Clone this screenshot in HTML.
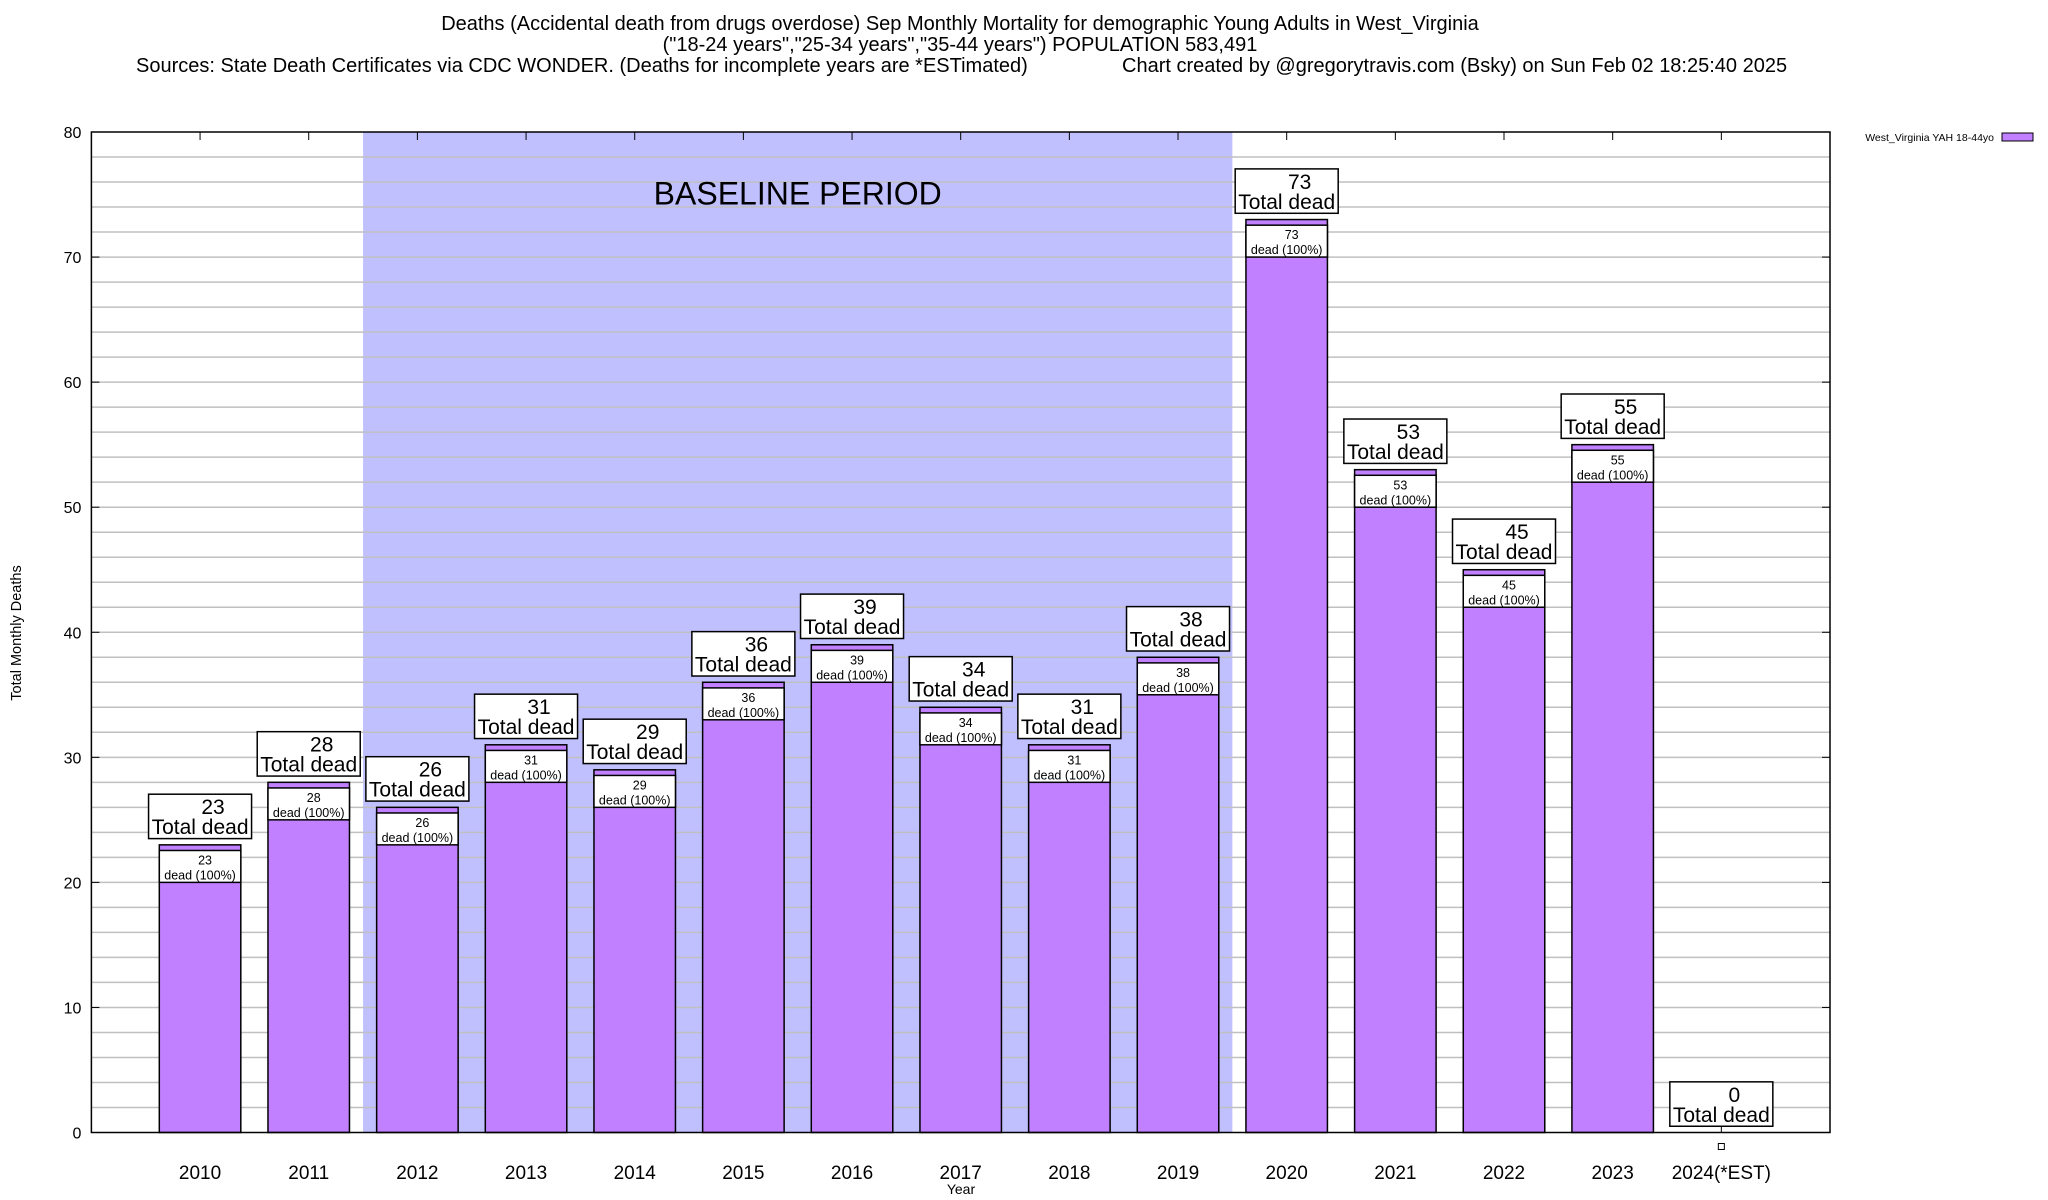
<!DOCTYPE html>
<html><head><meta charset="utf-8">
<style>
html,body{margin:0;padding:0;background:#fff;}
svg{display:block;font-family:"Liberation Sans",Arial,sans-serif;}
</style></head>
<body>
<svg id="chart" width="2048" height="1200" viewBox="0 0 2048 1200" xmlns="http://www.w3.org/2000/svg">
  <g font-size="20" fill="#000">
    <text x="960" y="30" text-anchor="middle">Deaths (Accidental death from drugs overdose) Sep Monthly Mortality for demographic Young Adults in West_Virginia</text>
    <text x="960" y="51" text-anchor="middle">("18-24 years","25-34 years","35-44 years") POPULATION 583,491</text>
    <text x="136" y="72">Sources: State Death Certificates via CDC WONDER. (Deaths for incomplete years are *ESTimated)</text>
    <text x="1122" y="72">Chart created by @gregorytravis.com (Bsky) on Sun Feb 02 18:25:40 2025</text>
  </g>
  <text x="0" y="0" font-size="14.5" text-anchor="middle" transform="translate(21,633) rotate(-90)">Total Monthly Deaths</text>
  <text x="961" y="1194" font-size="14" text-anchor="middle">Year</text>
  <g>
    <text x="1994" y="141" font-size="10.5" text-anchor="end">West_Virginia YAH 18-44yo</text>
    <rect x="2002" y="133" width="31" height="8" fill="#c080ff" stroke="#000" stroke-width="1"/>
  </g>
  <g id="plot"></g>
</svg>
<script>
const categories = ["2010","2011","2012","2013","2014","2015","2016","2017","2018","2019","2020","2021","2022","2023","2024(*EST)"];
const deaths = [23,28,26,31,29,36,39,34,31,38,73,53,45,55,0];
const yTicks = [0,10,20,30,40,50,60,70,80];
const baselineRange = [1.5, 9.5];

const L=91.4, R=1830, T=132, B=1132.5;
const xMin=-1, xMax=15, yMin=0, yMax=80;
const sx=v=>L+(v-xMin)/(xMax-xMin)*(R-L);
const sy=v=>B-(v-yMin)/(yMax-yMin)*(B-T);
const NS="http://www.w3.org/2000/svg";
const plot=document.getElementById('plot');
function mk(tag,attrs,parent){const e=document.createElementNS(NS,tag);for(const k in attrs)e.setAttribute(k,attrs[k]);(parent||plot).appendChild(e);return e;}
function txt(x,y,s,size,anchor,parent){const e=mk('text',{x:x,y:y,'font-size':size,'text-anchor':anchor||'middle'},parent);e.textContent=s;return e;}

const bg=mk('rect',{x:L,y:T,width:R-L,height:B-T,fill:'#fff'});


const bs=mk('rect',{x:sx(baselineRange[0]),y:T,width:sx(baselineRange[1])-sx(baselineRange[0]),height:B-T,fill:'#c0c0ff'});


for(let v=2;v<80;v+=2){
  const g=mk('line',{x1:L,x2:R,y1:sy(v),y2:sy(v),stroke:'#c0c0c0','stroke-width':1.5});
  
  
}
const bl=txt(sx(5.5),sy(75.1)+11,'BASELINE PERIOD',32);



yTicks.forEach(v=>{
  const t=txt(L-10,sy(v)+6,String(v),16,'end');
  
  
  mk('line',{x1:L,x2:L+8,y1:sy(v),y2:sy(v),stroke:'#000'});
  mk('line',{x1:R,x2:R-8,y1:sy(v),y2:sy(v),stroke:'#000'});
});

const bw=0.75;
categories.forEach((c,i)=>{
  const v=deaths[i];
  const cx=sx(i);
  const xl=txt(cx,1179,c,19);
  
  
  mk('line',{x1:cx,x2:cx,y1:B,y2:B-8,stroke:'#000'});
  mk('line',{x1:cx,x2:cx,y1:T,y2:T+8,stroke:'#000'});
  const g=mk('g',{});
  
  
  const x0=sx(i-bw/2), x1=sx(i+bw/2);
  if(v>0){
    mk('rect',{x:x0,y:sy(v),width:x1-x0,height:sy(0)-sy(v),fill:'#c080ff',stroke:'#000','stroke-width':1.5},g);
    const bt=sy(v-0.45), bb=sy(v-3);
    mk('rect',{x:x0,y:bt,width:x1-x0,height:bb-bt,fill:'#fff',stroke:'#000','stroke-width':1.5},g);
    txt(cx+5,bt+14,String(v),12.5,'middle',g);
    txt(cx,bt+29,'dead (100%)',12.5,'middle',g);
  } else {
    mk('rect',{x:cx-3,y:B+11,width:6,height:6,fill:'#fff',stroke:'#000','stroke-width':1},g);
  }
  const tb=sy(v+0.5), tt=sy(v+4.05);
  const w=103;
  mk('rect',{x:cx-w/2,y:tt,width:w,height:tb-tt,fill:'#fff',stroke:'#000','stroke-width':1.5},g);
  txt(cx+13,tt+20,String(v),21,'middle',g);
  txt(cx,tt+40,'Total dead',21,'middle',g);
});
const br=mk('rect',{x:L,y:T,width:R-L,height:B-T,fill:'none',stroke:'#000','stroke-width':1.5});


</script>
</body></html>
